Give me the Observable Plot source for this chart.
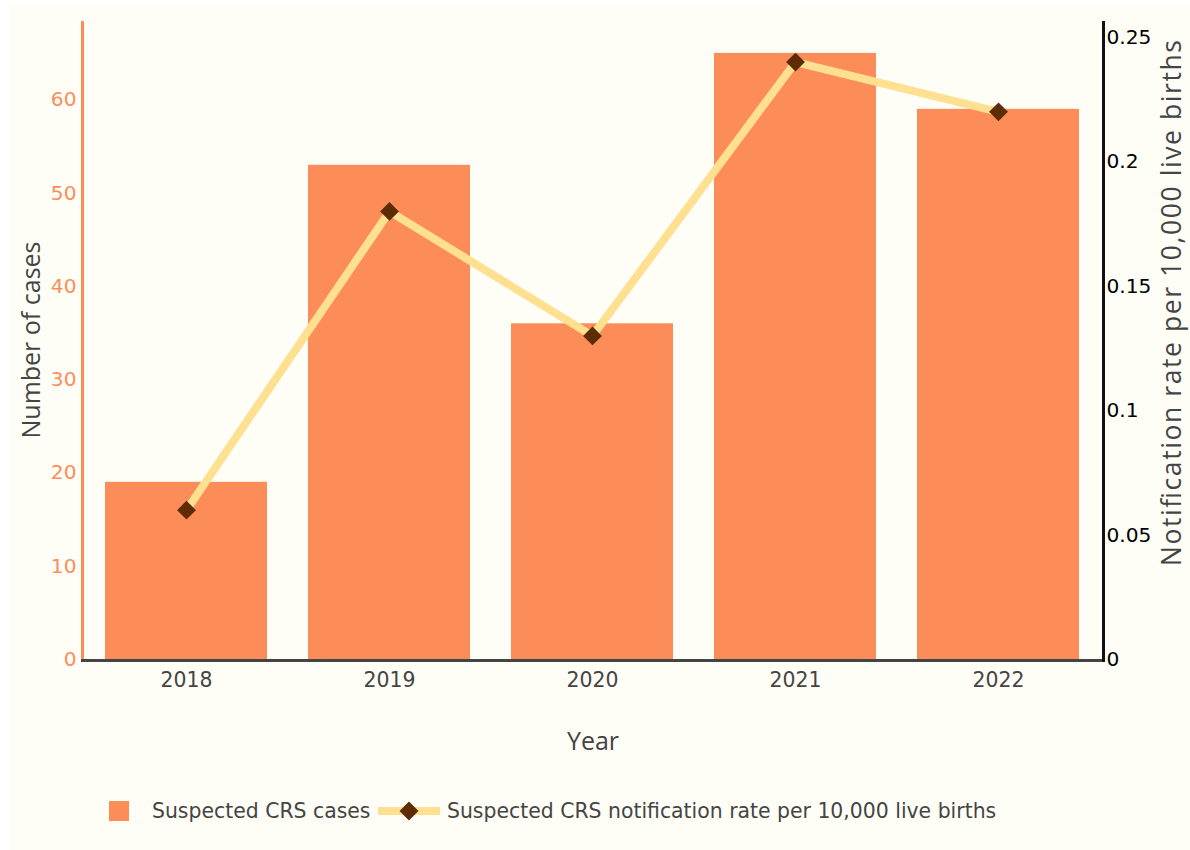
<!DOCTYPE html>
<html>
<head>
<meta charset="utf-8">
<script src="https://cdn.jsdelivr.net/npm/d3@7"></script>
<script src="https://cdn.jsdelivr.net/npm/@observablehq/plot@0.6"></script>
<style>
  html, body { margin: 0; padding: 0; background: #ffffff; }
  #page { position: absolute; left: 9px; top: 4px; width: 1181px; height: 846px; background: #fffef6; }
  #chart { position: absolute; left: 0; top: 0; }
  #legend { position: absolute; left: 0; top: 796px; width: 1190px; height: 30px; font-family: "DejaVu Sans", Verdana, sans-serif; font-size: 20.4px; color: #444; }
  .item { position: absolute; top: 0; height: 30px; display: flex; align-items: center; white-space: nowrap; }
  .swatch { position: absolute; top: 5px; }
</style>
</head>
<body>
<div id="page"></div>
<div id="chart"></div>
<div id="legend"></div>
<script>
const years = ["2018", "2019", "2020", "2021", "2022"];
const cases = [19, 53, 36, 65, 59];
const rates = [0.06, 0.18, 0.13, 0.24, 0.22];
const leftTicks = [0, 10, 20, 30, 40, 50, 60];
const rightTicks = [0, 0.05, 0.1, 0.15, 0.2, 0.25];
const leftMax = 68.42;
const rightMax = 0.2563;
const seriesNames = ["Suspected CRS cases", "Suspected CRS notification rate per 10,000 live births"];

const barColor = "#fc8d59";
const lineColor = "#fee090";
const markColor = "#5e2c04";

const k = leftMax / rightMax;
const data = years.map((y, i) => ({year: y, cases: cases[i], rate: rates[i]}));

const chart = Plot.plot({
  width: 1190,
  height: 770,
  marginLeft: 84,
  marginRight: 90,
  marginTop: 21,
  marginBottom: 111,
  style: {fontFamily: "DejaVu Sans, Verdana, sans-serif", background: "transparent", overflow: "visible"},
  x: {type: "band", domain: years, paddingInner: 0.2, paddingOuter: 0.1},
  y: {domain: [0, leftMax]},
  marks: [
    Plot.barY(data, {x: "year", y: "cases", fill: barColor}),
    Plot.line(data, {x: "year", y: d => d.rate * k, stroke: lineColor, strokeWidth: 8}),
    Plot.dot(data, {x: "year", y: d => d.rate * k, symbol: "diamond2", r: 8.5, fill: markColor, stroke: "none"}),
    Plot.axisY(leftTicks, {anchor: "left", tickSize: 0, tickPadding: 8, fill: barColor, fontSize: 20.2, label: null}),
    Plot.axisY(rightTicks.map(v => v * k), {anchor: "right", tickSize: 0, tickPadding: 6, fill: "#000", fontSize: 20.2, label: null,
      tickFormat: v => String(Math.round(v / k * 1000) / 1000)}),
    Plot.axisX({tickSize: 0, tickPadding: 13, fill: "#444", fontSize: 20.4, label: null})
  ]
});

document.getElementById("chart").appendChild(chart);

// axis lines and titles
const svg = d3.select(chart);
const xr = chart.scale("x").range;
const yr = chart.scale("y").range; // [bottom, top]
const y0 = yr[0], yTop = yr[1];
const leftLineX = xr[0] - 1.5, rightLineX = xr[1] + 3.5;
svg.append("line").attr("x1", leftLineX - 1.5).attr("x2", rightLineX + 1.5).attr("y1", y0 + 1.5).attr("y2", y0 + 1.5)
  .attr("stroke", "#444").attr("stroke-width", 3);
svg.append("line").attr("x1", leftLineX).attr("x2", leftLineX).attr("y1", yTop).attr("y2", y0)
  .attr("stroke", barColor).attr("stroke-width", 3);
svg.append("line").attr("x1", rightLineX).attr("x2", rightLineX).attr("y1", yTop).attr("y2", y0 + 3)
  .attr("stroke", "#111").attr("stroke-width", 3);

const titleFont = "Open Sans, sans-serif";
svg.append("text").text("Number of cases")
  .attr("transform", `translate(${leftLineX - 49},${(y0 + yTop) / 2}) rotate(-90)`)
  .attr("text-anchor", "middle").attr("dominant-baseline", "middle")
  .attr("font-family", titleFont).attr("font-size", 25).attr("fill", "#444");
svg.append("text").text("Notification rate per 10,000 live births")
  .attr("transform", `translate(${rightLineX + 70},${(y0 + yTop) / 2 - 37}) rotate(-90)`)
  .attr("text-anchor", "middle").attr("dominant-baseline", "middle")
  .attr("textLength", 526).attr("lengthAdjust", "spacing")
  .attr("font-family", titleFont).attr("font-size", 26.5).attr("fill", "#444");
svg.append("text").text("Year")
  .attr("x", (leftLineX + rightLineX) / 2).attr("y", y0 + 84)
  .attr("text-anchor", "middle").attr("dominant-baseline", "middle")
  .attr("font-family", titleFont).attr("font-size", 25).attr("fill", "#444");

// legend
const legend = document.getElementById("legend");
legend.innerHTML = `
  <svg class="swatch" style="left:109px" width="20" height="20"><rect width="20" height="20" fill="${barColor}"></rect></svg>
  <div class="item" style="left:152px">${seriesNames[0]}</div>
  <svg class="swatch" style="left:378px" width="62" height="20">
    <line x1="0" x2="62" y1="10" y2="10" stroke="${lineColor}" stroke-width="8"></line>
    <path d="M31,0.5L40.5,10L31,19.5L21.5,10Z" fill="${markColor}"></path>
  </svg>
  <div class="item" style="left:447px">${seriesNames[1]}</div>
`;
</script>
</body>
</html>
